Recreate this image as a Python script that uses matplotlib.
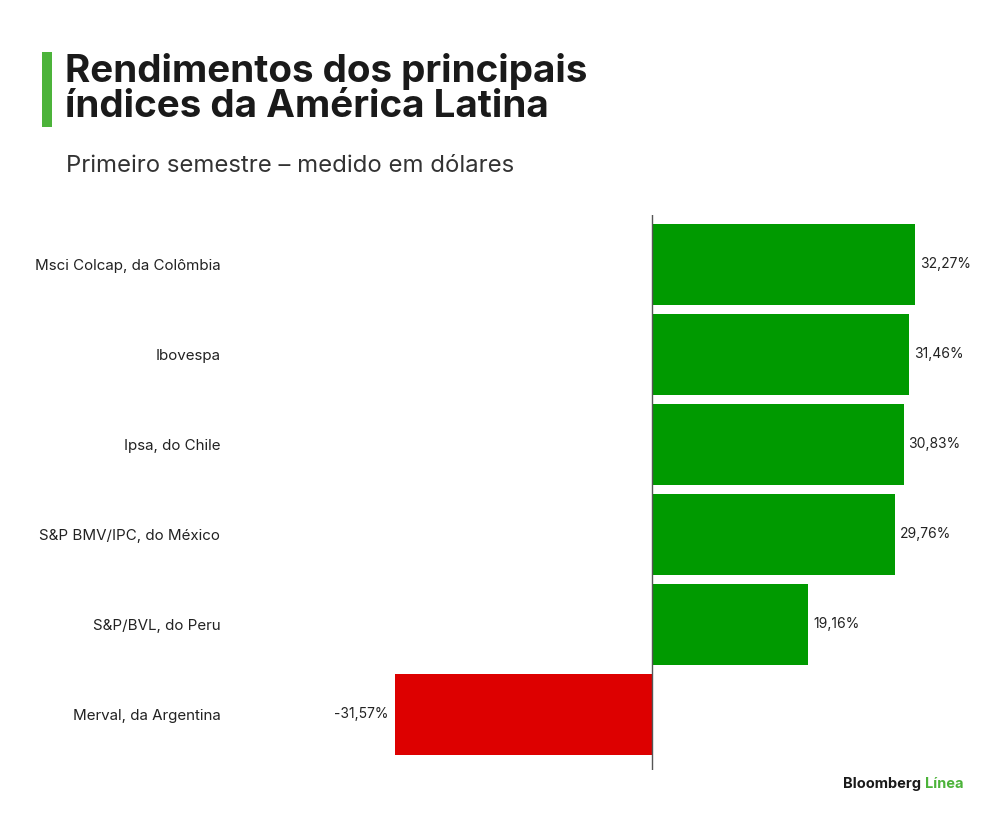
import matplotlib.pyplot as plt
from matplotlib.patches import Rectangle

plt.rcParams['font.family'] = ['Inter', 'DejaVu Sans']

indices = ['Msci Colcap, da Colômbia', 'Ibovespa', 'Ipsa, do Chile',
           'S&P BMV/IPC, do México', 'S&P/BVL, do Peru', 'Merval, da Argentina']
retornos = [32.27, 31.46, 30.83, 29.76, 19.16, -31.57]
rotulos = ['32,27%', '31,46%', '30,83%', '29,76%', '19,16%', '-31,57%']

W, H = 1000, 821
fig = plt.figure(figsize=(W / 100, H / 100), dpi=100)
fig.patch.set_facecolor('white')

# barra verde do título
fig.add_artist(Rectangle((42 / W, 1 - 127 / H), 10 / W, 75 / H,
                         transform=fig.transFigure, color='#4cb33a', lw=0))
fig.text(65 / W, 1 - 71 / H, 'Rendimentos dos principais', fontsize=27.8,
         fontweight='bold', color='#1a1a1a', va='center', ha='left')
fig.text(65 / W, 1 - 107 / H, 'índices da América Latina', fontsize=27.8,
         fontweight='bold', color='#1a1a1a', va='center', ha='left')
fig.text(66 / W, 1 - 166 / H, 'Primeiro semestre – medido em dólares',
         fontsize=17.2, color='#333333', va='center', ha='left')

ax = fig.add_axes([230 / W, 1 - 770 / H, 750 / W, 555 / H])
y = range(len(indices))
cores = ['#009a00' if v >= 0 else '#dd0000' for v in retornos]
ax.barh(y, retornos, height=0.9, color=cores)
ax.axvline(0, color='#555555', lw=1)

ax.set_xlim(-51.8, 40.2)
ax.set_ylim(5.617, -0.55)
ax.set_yticks(list(y))
ax.set_yticklabels(indices, fontsize=10.9, color='#222222')
ax.tick_params(axis='y', length=0, pad=7)
ax.set_xticks([])
for s in ax.spines.values():
    s.set_visible(False)

for i, (v, t) in enumerate(zip(retornos, rotulos)):
    if v >= 0:
        ax.annotate(t, (v, i), xytext=(3.5, 0), textcoords='offset points',
                    ha='left', va='center', fontsize=10, color='#222222')
    else:
        ax.annotate(t, (v, i), xytext=(-4.5, 0), textcoords='offset points',
                    ha='right', va='center', fontsize=10, color='#222222')

fig.text(843 / W, 1 - 784 / H, 'Bloomberg', fontsize=10.5, fontweight='bold',
         color='#1a1a1a', va='center', ha='left')
fig.text(963 / W, 1 - 784 / H, 'Línea', fontsize=10.5, fontweight='bold',
         color='#4cb33a', va='center', ha='right')

fig.savefig('out.png', dpi=100, facecolor='white')
